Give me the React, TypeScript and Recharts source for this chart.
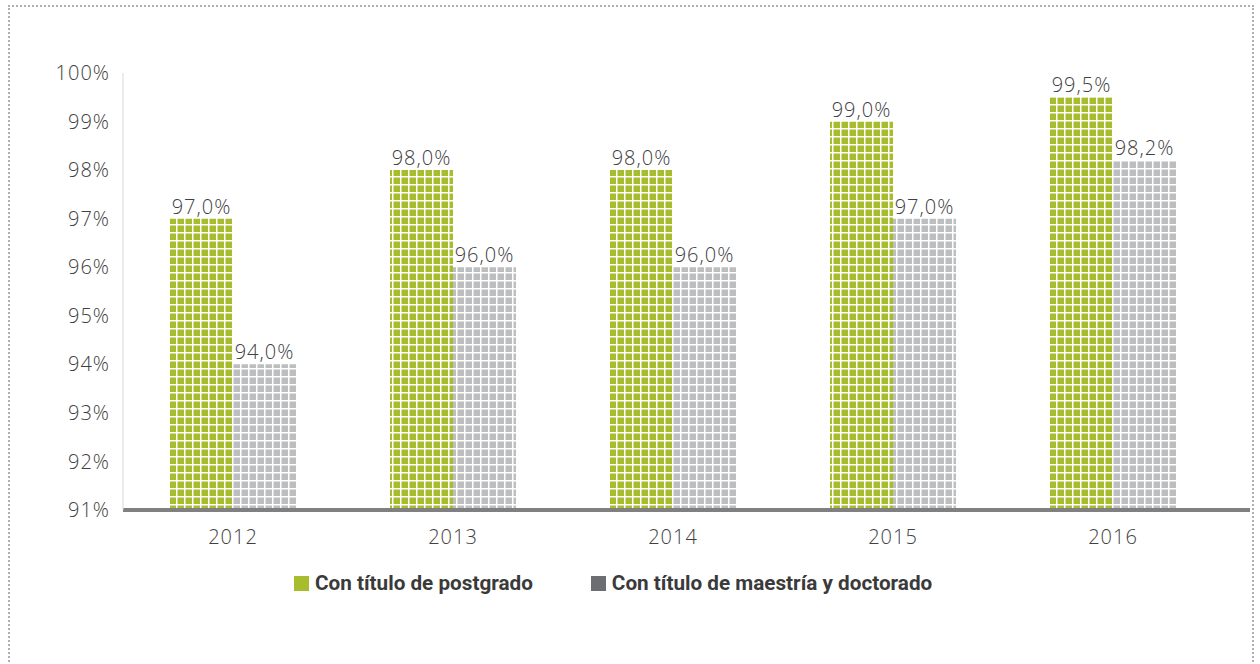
import React from "react";
import {
  BarChart,
  Bar,
  XAxis,
  YAxis,
  LabelList,
} from "recharts";

const years = ["2012", "2013", "2014", "2015", "2016"];
const postgrado = [97.0, 98.0, 98.0, 99.0, 99.5];
const maestriaDoctorado = [94.0, 96.0, 96.0, 97.0, 98.2];
const yTicks = [91, 92, 93, 94, 95, 96, 97, 98, 99, 100];

const GREEN = "#a7bd2d";
const LIGHT_GREY = "#bdbec0";
const DARK_GREY = "#6d6e71";
const TEXT = "#404040";
const FONT = "'Open Sans', sans-serif";

const data = years.map((year, i) => ({
  year,
  postgrado: postgrado[i],
  maestria: maestriaDoctorado[i],
}));

const fmt = (v: number) => v.toFixed(1).replace(".", ",") + "%";

const textStyle = {
  fill: TEXT,
  fontSize: 20,
  fontWeight: 300,
  fontFamily: FONT,
  letterSpacing: 1,
};

const legendItems = [
  { label: "Con título de postgrado", color: GREEN },
  { label: "Con título de maestría y doctorado", color: DARK_GREY },
];

export default function App() {
  return (
    <div
      style={{
        position: "absolute",
        top: 0,
        left: 0,
        width: 1260,
        height: 664,
        background: "#fff",
      }}
    >
      <div
        style={{
          position: "absolute",
          top: 5,
          left: 8,
          width: 1246,
          height: 700,
          border: "2px dotted #b0b0b0",
          boxSizing: "border-box",
        }}
      />
      <BarChart
        width={1260}
        height={664}
        data={data}
        margin={{ top: 73, right: 10, left: 0, bottom: 114 }}
        barGap={0}
        barSize={63}
        style={{ position: "absolute", top: 0, left: 0 }}
      >
        <defs>
          <pattern id="gridGreen" patternUnits="userSpaceOnUse" width="8" height="8">
            <rect width="8" height="8" fill={GREEN} />
            <rect width="1.5" height="8" fill="#fff" />
            <rect width="8" height="1.5" fill="#fff" />
          </pattern>
          <pattern id="gridGrey" patternUnits="userSpaceOnUse" width="8" height="8">
            <rect width="8" height="8" fill={LIGHT_GREY} />
            <rect width="1.5" height="8" fill="#fff" />
            <rect width="8" height="1.5" fill="#fff" />
          </pattern>
        </defs>
        <XAxis
          dataKey="year"
          height={40}
          padding={{ left: 0, right: 27 }}
          axisLine={{ stroke: "#808080", strokeWidth: 4 }}
          tickLine={false}
          tick={textStyle}
          tickMargin={14}
        />
        <YAxis
          width={123}
          domain={[91, 100]}
          ticks={yTicks}
          allowDataOverflow
          axisLine={{ stroke: "#d9d9d9", strokeWidth: 1 }}
          tickLine={false}
          tick={textStyle}
          tickFormatter={(v: number) => v + "%"}
          tickMargin={7}
        />
        <Bar dataKey="postgrado" fill="url(#gridGreen)" isAnimationActive={false}>
          <LabelList
            dataKey="postgrado"
            position="top"
            offset={5}
            formatter={(v: any) => fmt(Number(v))}
            style={textStyle}
          />
        </Bar>
        <Bar dataKey="maestria" fill="url(#gridGrey)" isAnimationActive={false}>
          <LabelList
            dataKey="maestria"
            position="top"
            offset={5}
            formatter={(v: any) => fmt(Number(v))}
            style={textStyle}
          />
        </Bar>
      </BarChart>
      <div
        style={{
          position: "absolute",
          top: 571,
          left: 294,
          display: "flex",
          gap: 58,
          fontFamily: "Roboto, sans-serif",
          fontWeight: 700,
          fontSize: 20.7,
          color: "#3a3a3a",
          lineHeight: "24px",
        }}
      >
        {legendItems.map((item) => (
          <div key={item.label} style={{ display: "flex", alignItems: "center" }}>
            <span
              style={{
                display: "inline-block",
                width: 15,
                height: 15,
                background: item.color,
                marginRight: 6,
              }}
            />
            {item.label}
          </div>
        ))}
      </div>
    </div>
  );
}
